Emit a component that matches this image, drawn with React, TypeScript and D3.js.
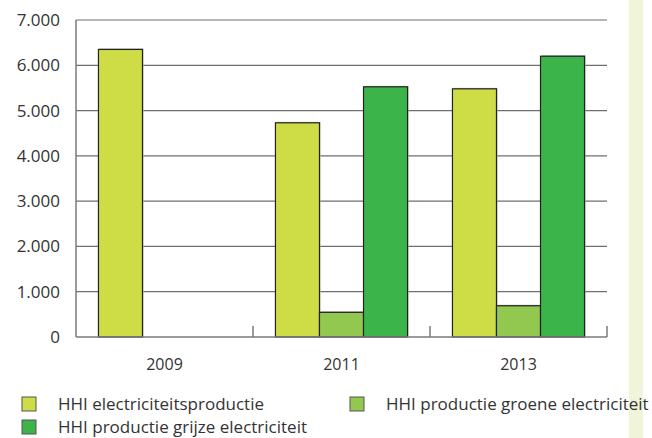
import { useMemo } from 'react';
import * as d3 from 'd3';

const years = ['2009', '2011', '2013'];
const seriesNames = [
  'HHI electriciteitsproductie',
  'HHI productie groene electriciteit',
  'HHI productie grijze electriciteit',
];
const electricity = [6350, 4730, 5480];
const greenElectricity = [null, 545, 690];
const greyElectricity = [null, 5525, 6200];
const yTicks = [0, 1000, 2000, 3000, 4000, 5000, 6000, 7000];

const colors = ['#cedd46', '#92c850', '#3bb44a'];

const W = 652;
const H = 438;
const margin = { top: 20, right: 45, bottom: 101, left: 76 };

const fmt = (v: number) => (v === 0 ? '0' : d3.format(',')(v).replace(/,/g, '.'));

const App = () => {
  const innerW = W - margin.left - margin.right;
  const innerH = H - margin.top - margin.bottom;

  const x = useMemo(() => d3.scaleBand<string>().domain(years).range([0, innerW]).padding(0), [innerW]);
  const xs = useMemo(
    () => d3.scaleBand<number>().domain([0, 1, 2]).range([0, x.bandwidth()]).paddingInner(0).paddingOuter(0.51),
    [x]
  );
  const y = useMemo(() => d3.scaleLinear().domain([0, 7000]).range([innerH, 0]), [innerH]);

  const allSeries = [electricity, greenElectricity, greyElectricity];
  const font = "'Open Sans', 'Noto Sans', sans-serif";

  return (
    <svg width={W} height={H} style={{ position: 'absolute', left: 0, top: 0, background: '#fff' }}>
      {/* side strip */}
      <rect x={629} y={0} width={14} height={H} fill="#f0f5da" />
      <g transform={`translate(${margin.left},${margin.top})`}>
        {/* gridlines */}
        {yTicks.filter(t => t > 0).map(t => (
          <line key={t} x1={0} x2={innerW} y1={y(t)} y2={y(t)} stroke="#6f6f6f" strokeWidth={1.2} />
        ))}
        {/* y labels */}
        {yTicks.map(t => (
          <text key={t} x={-16} y={y(t)} dy="0.35em" textAnchor="end" fontSize={17} fill="#333" fontFamily={font}>
            {fmt(t)}
          </text>
        ))}
        {/* bars */}
        {years.map((yr, i) => (
          <g key={yr} transform={`translate(${x(yr)},0)`}>
            {allSeries.map((s, j) => {
              const v = s[i];
              if (v == null) return null;
              const bx = xs(j)!;
              return (
                <g key={j}>
                  <rect x={bx + 1} y={y(v) - 1} width={xs.bandwidth()} height={innerH - y(v) + 1} fill="#bdbdbd" />
                  <rect
                    x={bx}
                    y={y(v)}
                    width={xs.bandwidth()}
                    height={innerH - y(v)}
                    fill={colors[j]}
                    stroke="#222"
                    strokeWidth={1.2}
                  />
                </g>
              );
            })}
          </g>
        ))}
        {/* axes */}
        <line x1={0} x2={0} y1={0} y2={innerH} stroke="#7a7a7a" strokeWidth={1.5} />
        <line x1={0} x2={innerW} y1={innerH} y2={innerH} stroke="#7a7a7a" strokeWidth={1.5} />
        {years.map(yr => (
          <line
            key={yr}
            x1={x(yr)! + x.bandwidth()}
            x2={x(yr)! + x.bandwidth()}
            y1={innerH}
            y2={innerH - 11}
            stroke="#7a7a7a"
            strokeWidth={1.5}
          />
        ))}
        {years.map(yr => (
          <text
            key={yr}
            x={x(yr)! + x.bandwidth() / 2}
            y={innerH + 33}
            textAnchor="middle"
            fontSize={16}
            fill="#333"
            fontFamily={font}
          >
            {yr}
          </text>
        ))}
      </g>
      {/* legend */}
      {seriesNames.map((name, j) => {
        const col = j === 1 ? 1 : 0;
        const row = j === 2 ? 1 : 0;
        const lx = col ? 350 : 22;
        const ly = 397 + row * 23;
        return (
          <g key={name}>
            <rect x={lx} y={ly} width={14} height={14} fill={colors[j]} stroke="#555" strokeWidth={1} />
            <text x={lx + 36} y={ly + 13} fontSize={17} fill="#333" fontFamily={font}>
              {name}
            </text>
          </g>
        );
      })}
    </svg>
  );
};

export default App;
